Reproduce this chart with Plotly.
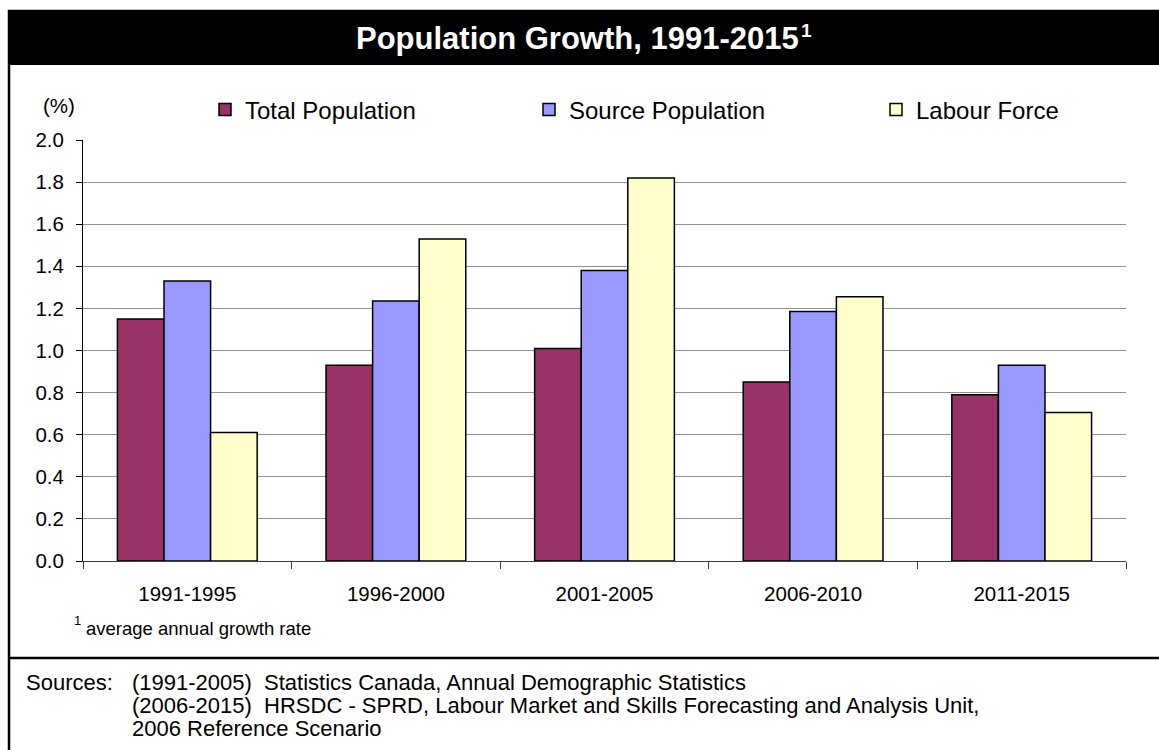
import plotly.graph_objects as go

# Five-year periods and average annual growth rates (%)
periods = ["1991-1995", "1996-2000", "2001-2005", "2006-2010", "2011-2015"]
total_population = [1.15, 0.93, 1.01, 0.85, 0.79]
source_population = [1.33, 1.235, 1.38, 1.185, 0.93]
labour_force = [0.61, 1.53, 1.82, 1.255, 0.705]

y_ticks = [0.0, 0.2, 0.4, 0.6, 0.8, 1.0, 1.2, 1.4, 1.6, 1.8, 2.0]

W, H = 1159, 750
L, R, T, B = 83, 33, 140, 189
PW, PH = W - L - R, H - T - B
FONT = "Liberation Sans, Arial, sans-serif"


def px_x(px):
    return (px - L) / PW


def px_y(py):
    return (H - B - py) / PH


series = [
    ("Total Population", total_population, "#993366", "legend", 205),
    ("Source Population", source_population, "#9999FF", "legend2", 529),
    ("Labour Force", labour_force, "#FFFFCC", "legend3", 876),
]

fig = go.Figure()
for name, vals, color, leg, _ in series:
    fig.add_trace(go.Bar(
        x=periods, y=vals, name=name, legend=leg,
        marker=dict(color=color, line=dict(color="#000000", width=1.5)),
    ))

legend_style = dict(
    orientation="h", xref="container", yref="container",
    xanchor="left", yanchor="middle", y=1 - 110 / H,
    font=dict(family=FONT, size=24, color="#000000"),
    bgcolor="rgba(0,0,0,0)", borderwidth=0,
)
fig.update_layout(
    legend=dict(x=series[0][4] / W, **legend_style),
    legend2=dict(x=series[1][4] / W, **legend_style),
    legend3=dict(x=series[2][4] / W, **legend_style),
)

fig.update_layout(
    width=W, height=H,
    margin=dict(l=L, r=R, t=T, b=B, autoexpand=False),
    paper_bgcolor="#FFFFFF", plot_bgcolor="#FFFFFF",
    bargap=0.33, bargroupgap=0,
    barmode="group",
    font=dict(family=FONT, color="#000000"),
    showlegend=True,
)

fig.update_xaxes(
    type="category", tickson="boundaries",
    ticks="outside", ticklen=7, tickcolor="#404040", tickwidth=1,
    showline=True, linecolor="#404040", linewidth=1,
    showgrid=False, ticklabelstandoff=14,
    tickfont=dict(family=FONT, size=20.5, color="#000000"),
)
fig.update_yaxes(
    range=[0, 2.0], tickvals=y_ticks, tickformat=".1f",
    ticks="outside", ticklen=6, tickcolor="#000000", tickwidth=1,
    showline=True, linecolor="#000000", linewidth=1,
    showgrid=True, gridcolor="#909090", gridwidth=1.3,
    zeroline=False, ticklabelstandoff=8,
    tickfont=dict(family=FONT, size=20.5, color="#000000"),
)

shapes = [
    # black title band
    dict(type="rect", xref="paper", yref="paper",
         x0=px_x(8), x1=px_x(1165), y0=px_y(65), y1=px_y(10),
         fillcolor="#000000", line=dict(width=0), layer="below"),
    # outer frame
    dict(type="rect", xref="paper", yref="paper",
         x0=px_x(9), x1=px_x(1165), y0=px_y(755), y1=px_y(11),
         fillcolor="rgba(0,0,0,0)", line=dict(color="#000000", width=2.5)),
    # divider above the sources block
    dict(type="line", xref="paper", yref="paper",
         x0=px_x(9), x1=px_x(1165), y0=px_y(658), y1=px_y(658),
         line=dict(color="#000000", width=2.5)),
]

NB = "\u00a0"


def note(text, x, y, size, anchor="left", yanchor="middle", color="#000000",
         bold=False):
    return dict(
        text=text, xref="paper", yref="paper",
        x=px_x(x), y=px_y(y), xanchor=anchor, yanchor=yanchor,
        showarrow=False, align="left",
        font=dict(family=FONT, size=size, color=color,
                  weight="bold" if bold else "normal"),
    )


# sources block: tight 23 px line pitch with 22 px glyphs
src_lines = [
    f"(1991-2005){NB} Statistics Canada, Annual Demographic Statistics",
    f"(2006-2015){NB} HRSDC - SPRD, Labour Market and Skills Forecasting "
    "and Analysis Unit,",
    "2006 Reference Scenario",
]
src_text = "<br>".join(
    f'<span style="font-size:22px">{line}</span>' for line in src_lines
)

annotations = [
    note("Population Growth, 1991-2015", 577, 38, 31,
         anchor="center", color="#FFFFFF", bold=True),
    note("1", 799, 30, 19, color="#FFFFFF", bold=True),
    note("(%)", 41, 106, 20.5),
    note("1", 72, 620, 13),
    note("average annual growth rate", 84, 628, 18.5),
    note("Sources:", 24, 682, 22),
    note(src_text, 130, 705, 17.7),
]

fig.update_layout(shapes=shapes, annotations=annotations)

fig.write_html("out.html")
